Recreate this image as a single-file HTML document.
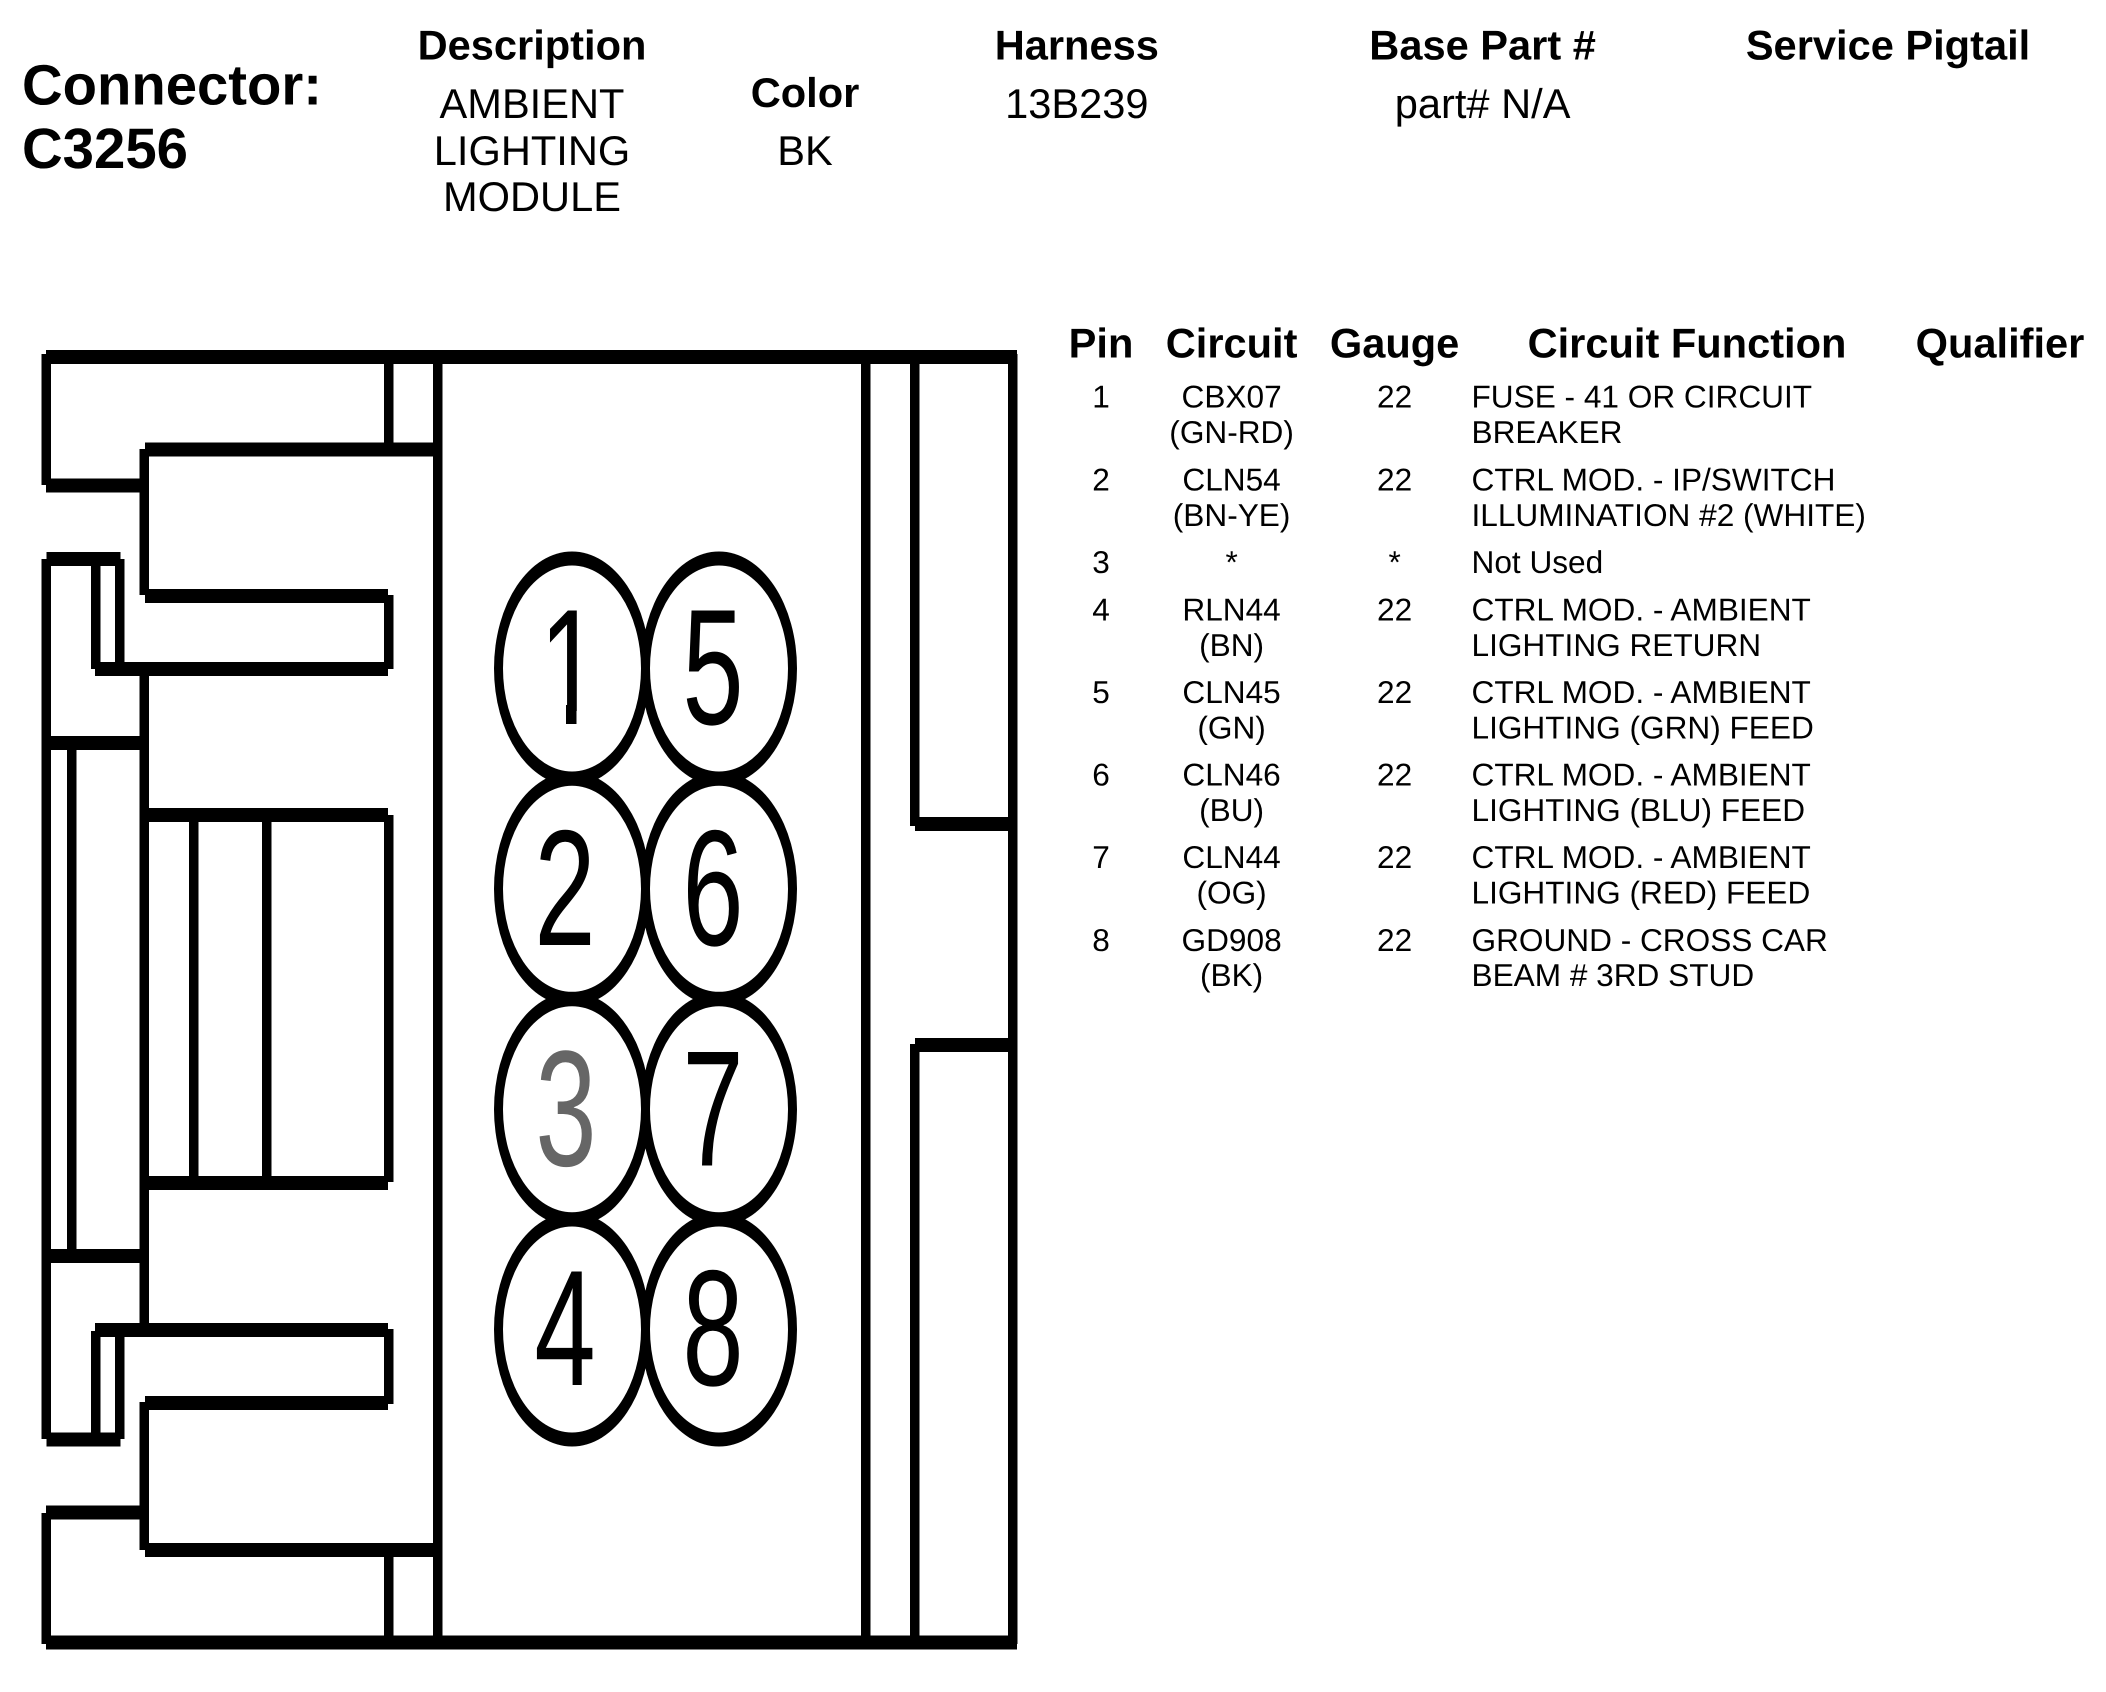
<!DOCTYPE html>
<html><head><meta charset="utf-8"><title>Connector C3256</title>
<style>
html,body{margin:0;padding:0;background:#fff;width:2106px;height:1692px;overflow:hidden}
svg{display:block}
text{font-family:"Liberation Sans",Arial,sans-serif;fill:#000;text-rendering:geometricPrecision}
.h{font-weight:bold;font-size:41.6px;text-anchor:middle}
.b{font-size:41.6px;text-anchor:middle}
.t{font-weight:bold;font-size:57px}
.th{font-weight:bold;font-size:41.6px;text-anchor:middle}
.c{font-size:31.6px;text-anchor:middle}
.f{font-size:31.6px}
.d{font-size:110px;text-anchor:middle}
</style></head><body>
<svg width="2106" height="1692" viewBox="0 0 2106 1692" xmlns="http://www.w3.org/2000/svg">
<rect width="2106" height="1692" fill="#fff"/>
<text class="t" x="22" y="104.5" textLength="300" lengthAdjust="spacingAndGlyphs">Connector:</text>
<text class="t" x="22" y="168" textLength="166" lengthAdjust="spacingAndGlyphs">C3256</text>
<text class="h" x="532" y="59.5">Description</text>
<text class="b" x="532" y="118">AMBIENT</text>
<text class="b" x="532" y="165">LIGHTING</text>
<text class="b" x="532" y="211">MODULE</text>
<text class="h" x="805" y="107">Color</text>
<text class="b" x="805" y="165">BK</text>
<text class="h" x="1076.8" y="59.5">Harness</text>
<text class="b" x="1076.8" y="118">13B239</text>
<text class="h" x="1482.6" y="59.5">Base Part #</text>
<text class="b" x="1482.6" y="118">part# N/A</text>
<text class="h" x="1888" y="59.5">Service Pigtail</text>

<g fill="#000">
<rect x="46" y="350" width="971" height="14"/>
<rect x="46" y="1635.5" width="971" height="14"/>
<rect x="1008" y="354" width="9.5" height="1290"/>
<rect x="861" y="354" width="9.5" height="1290"/>
<rect x="433" y="354" width="9.5" height="1290"/>
<rect x="910" y="354" width="9.5" height="472"/>
<rect x="910" y="1044" width="9.5" height="600"/>
<rect x="915" y="817" width="100" height="14"/>
<rect x="915" y="1038" width="100" height="14"/>
<rect x="41.5" y="354" width="9.5" height="131"/>
<rect x="46" y="478.5" width="96" height="14"/>
<rect x="384" y="354" width="9.5" height="92"/>
<rect x="145" y="442.5" width="290" height="14"/>
<rect x="139.5" y="449" width="9.5" height="146"/>
<rect x="145" y="589" width="243" height="14"/>
<rect x="384" y="595" width="9.5" height="74"/>
<rect x="95" y="662" width="293" height="14"/>
<rect x="46.5" y="552" width="74" height="14"/>
<rect x="41.5" y="559" width="9.5" height="880"/>
<rect x="91" y="559" width="9.5" height="110"/>
<rect x="115" y="559" width="9.5" height="105"/>
<rect x="139.5" y="672" width="9.5" height="655"/>
<rect x="46" y="736" width="96" height="14"/>
<rect x="67" y="745" width="9.5" height="510"/>
<rect x="145" y="808" width="243" height="14"/>
<rect x="384" y="815" width="9.5" height="367"/>
<rect x="189" y="815" width="9.5" height="365"/>
<rect x="262" y="815" width="9.5" height="365"/>
<rect x="145" y="1176" width="243" height="14"/>
<rect x="46" y="1249" width="96" height="14"/>
<rect x="95" y="1323" width="293" height="14"/>
<rect x="384" y="1329" width="9.5" height="75"/>
<rect x="91" y="1331" width="9.5" height="108"/>
<rect x="115" y="1331" width="9.5" height="108"/>
<rect x="46.5" y="1432.5" width="74" height="14"/>
<rect x="145" y="1396" width="243" height="14"/>
<rect x="139.5" y="1402" width="9.5" height="148"/>
<rect x="145" y="1543" width="290" height="14"/>
<rect x="384" y="1550" width="9.5" height="90"/>
<rect x="46" y="1505.5" width="96" height="14"/>
<rect x="41.5" y="1513" width="9.5" height="131"/>
</g>

<g fill="#000">
<ellipse cx="572" cy="668.5" rx="78" ry="117"/>
<ellipse cx="719" cy="668.5" rx="78" ry="117"/>
<ellipse cx="572" cy="888.8" rx="78" ry="117"/>
<ellipse cx="719" cy="888.8" rx="78" ry="117"/>
<ellipse cx="572" cy="1109.2" rx="78" ry="117"/>
<ellipse cx="719" cy="1109.2" rx="78" ry="117"/>
<ellipse cx="572" cy="1329.5" rx="78" ry="117"/>
<ellipse cx="719" cy="1329.5" rx="78" ry="117"/>
</g>
<g fill="#fff">
<ellipse cx="572" cy="668.5" rx="69" ry="103"/>
<ellipse cx="719" cy="668.5" rx="69" ry="103"/>
<ellipse cx="572" cy="888.8" rx="69" ry="103"/>
<ellipse cx="719" cy="888.8" rx="69" ry="103"/>
<ellipse cx="572" cy="1109.2" rx="69" ry="103"/>
<ellipse cx="719" cy="1109.2" rx="69" ry="103"/>
<ellipse cx="572" cy="1329.5" rx="69" ry="103"/>
<ellipse cx="719" cy="1329.5" rx="69" ry="103"/>
</g>
<g>
<text class="d" transform="translate(570 724) scale(1 1.5)">1</text>
<rect x="530" y="711" width="36" height="16" fill="#fff"/>
<rect x="576.5" y="711" width="36" height="16" fill="#fff"/>
<rect x="566" y="705" width="10.5" height="19" fill="#000"/>
<text class="d" transform="translate(713 724) scale(1 1.5)">5</text>
<text class="d" transform="translate(565 945) scale(1 1.5)">2</text>
<text class="d" transform="translate(713 945) scale(1 1.5)">6</text>
<text class="d" style="fill:#666" transform="translate(566 1165.5) scale(1 1.5)">3</text>
<text class="d" transform="translate(713 1165.5) scale(1 1.5)">7</text>
<text class="d" transform="translate(565 1385) scale(1 1.5)">4</text>
<text class="d" transform="translate(713 1385) scale(1 1.5)">8</text>
</g>

<text class="th" x="1101" y="357.5">Pin</text>
<text class="th" x="1231.6" y="357.5">Circuit</text>
<text class="th" x="1394.6" y="357.5">Gauge</text>
<text class="th" x="1687" y="357.5">Circuit Function</text>
<text class="th" x="2000" y="357.5">Qualifier</text>

<text class="c" x="1101" y="407.5">1</text><text class="c" x="1231.6" y="407.5">CBX07</text><text class="c" x="1394.6" y="407.5">22</text>
<text class="f" x="1471.5" y="407.5">FUSE - 41 OR CIRCUIT</text>
<text class="c" x="1231.6" y="443">(GN-RD)</text><text class="f" x="1471.5" y="443">BREAKER</text>

<text class="c" x="1101" y="490.5">2</text><text class="c" x="1231.6" y="490.5">CLN54</text><text class="c" x="1394.6" y="490.5">22</text>
<text class="f" x="1471.5" y="490.5">CTRL MOD. - IP/SWITCH</text>
<text class="c" x="1231.6" y="526">(BN-YE)</text><text class="f" x="1471.5" y="526">ILLUMINATION #2 (WHITE)</text>

<text class="c" x="1101" y="573">3</text><text class="c" x="1231.6" y="573">*</text><text class="c" x="1394.6" y="573">*</text>
<text class="f" x="1471.5" y="573">Not Used</text>

<text class="c" x="1101" y="620.5">4</text><text class="c" x="1231.6" y="620.5">RLN44</text><text class="c" x="1394.6" y="620.5">22</text>
<text class="f" x="1471.5" y="620.5">CTRL MOD. - AMBIENT</text>
<text class="c" x="1231.6" y="656">(BN)</text><text class="f" x="1471.5" y="656">LIGHTING RETURN</text>

<text class="c" x="1101" y="703">5</text><text class="c" x="1231.6" y="703">CLN45</text><text class="c" x="1394.6" y="703">22</text>
<text class="f" x="1471.5" y="703">CTRL MOD. - AMBIENT</text>
<text class="c" x="1231.6" y="738.5">(GN)</text><text class="f" x="1471.5" y="738.5">LIGHTING (GRN) FEED</text>

<text class="c" x="1101" y="785.5">6</text><text class="c" x="1231.6" y="785.5">CLN46</text><text class="c" x="1394.6" y="785.5">22</text>
<text class="f" x="1471.5" y="785.5">CTRL MOD. - AMBIENT</text>
<text class="c" x="1231.6" y="821">(BU)</text><text class="f" x="1471.5" y="821">LIGHTING (BLU) FEED</text>

<text class="c" x="1101" y="868">7</text><text class="c" x="1231.6" y="868">CLN44</text><text class="c" x="1394.6" y="868">22</text>
<text class="f" x="1471.5" y="868">CTRL MOD. - AMBIENT</text>
<text class="c" x="1231.6" y="903.5">(OG)</text><text class="f" x="1471.5" y="903.5">LIGHTING (RED) FEED</text>

<text class="c" x="1101" y="951">8</text><text class="c" x="1231.6" y="951">GD908</text><text class="c" x="1394.6" y="951">22</text>
<text class="f" x="1471.5" y="951">GROUND - CROSS CAR</text>
<text class="c" x="1231.6" y="986">(BK)</text><text class="f" x="1471.5" y="986">BEAM # 3RD STUD</text>
</svg>
</body></html>
